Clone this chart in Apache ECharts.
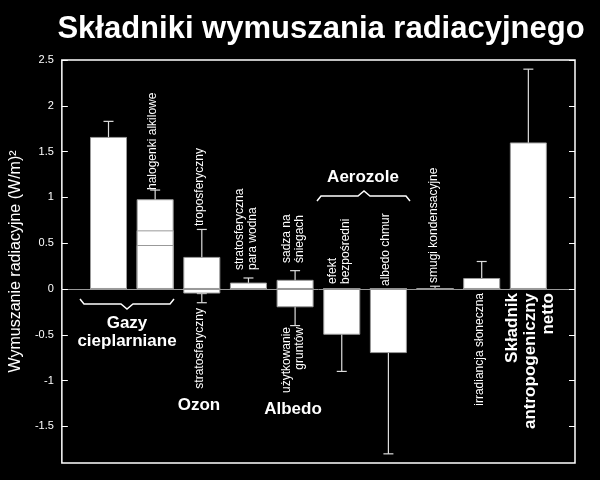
<!DOCTYPE html>
<html><head><meta charset="utf-8">
<script src="https://cdn.jsdelivr.net/npm/echarts@6/dist/echarts.min.js"></script>
<style>html,body{margin:0;background:#000}#main{width:600px;height:480px}</style>
</head><body><div id="main"></div>
<script>
var chart = echarts.init(document.getElementById('main'));

// column positions 1..10
var columns = [1, 2, 3, 4, 5, 6, 7, 8, 9, 10];
// primary bar per column
var mainValues = [1.66, 0.48, 0.35, 0.07, -0.2, -0.5, -0.7, 0.01, 0.12, 1.6];
// secondary parts (N2O on column 2, strat. ozone, black carbon on snow)
var secondValues = [0, 0.16, -0.05, 0, 0.1, 0, 0, 0, 0, 0];
// halocarbons on column 2
var thirdValues = [0, 0.34, 0, 0, 0, 0, 0, 0, 0, 0];
// error bars: [column, low, high]
var errorBars = [
  [1, 1.49, 1.83], [2, 0.88, 1.08], [3, 0.25, 0.65], [3, -0.15, -0.05],
  [4, 0.02, 0.12], [5, -0.4, 0.0], [5, 0.0, 0.2], [6, -0.9, -0.1],
  [7, -1.8, -0.3], [8, 0.003, 0.03], [9, 0.06, 0.3], [10, 0.6, 2.4]
];
var yTicks = [-1.5, -1, -0.5, 0, 0.5, 1, 1.5, 2, 2.5];

function pairs(vals) { return columns.map(function (c, i) { return [c, vals[i]]; }); }
// column 2 is stacked: draw cumulative heights from the back to the front
var level3 = mainValues.map(function (v, i) { return i === 1 ? v + secondValues[i] + thirdValues[i] : 0; });
var level2 = mainValues.map(function (v, i) { return i === 1 ? v + secondValues[i] : secondValues[i]; });

var barStyle = { color: '#fff', borderColor: '#999', borderWidth: 1 };
var font = 'Liberation Sans, Arial, sans-serif';

function vtext(x, y, text, align, size, bold) {
  return { type: 'text', x: x, y: y, rotation: Math.PI / 2, z: 10,
    style: { text: text, fill: '#fff', font: (bold ? 'bold ' : '') + size + 'px ' + font,
      align: align, verticalAlign: 'middle', lineHeight: size + 1 } };
}
function htext(x, y, text) {
  return { type: 'text', x: x, y: y, z: 10,
    style: { text: text, fill: '#fff', font: 'bold 17px ' + font, align: 'center', verticalAlign: 'middle', lineHeight: 18 } };
}

var option = {
  backgroundColor: '#000',
  animation: false,
  title: { text: 'Składniki wymuszania radiacyjnego', left: 316, top: 9, textAlign: 'center',
    textStyle: { color: '#fff', fontSize: 31, fontWeight: 'bold', fontFamily: font } },
  grid: { left: 58, right: 25, top: 60, bottom: 17, show: true, borderColor: '#fff', borderWidth: 1.5, backgroundColor: '#000' },
  xAxis: { type: 'value', min: 0, max: 11, axisLabel: { show: false }, axisTick: { show: false },
    splitLine: { show: false }, axisLine: { onZero: true, lineStyle: { color: '#999', width: 1 } } },
  yAxis: [
    { type: 'value', min: -1.9, max: 2.5, splitLine: { show: false },
      name: 'Wymuszanie radiacyjne (W/m)²', nameLocation: 'middle', nameGap: 36,
      nameTextStyle: { color: '#fff', fontSize: 16, fontFamily: font },
      axisLine: { show: false },
      axisTick: { inside: true, length: 6, customValues: yTicks, lineStyle: { color: '#fff' } },
      axisLabel: { customValues: yTicks, color: '#fff', fontSize: 11, fontFamily: font } },
    { type: 'value', min: -1.9, max: 2.5, position: 'right', splitLine: { show: false },
      axisLine: { show: false }, axisLabel: { show: false },
      axisTick: { inside: true, length: 6, customValues: yTicks, lineStyle: { color: '#fff' } } }
  ],
  series: [
    { type: 'custom', data: errorBars, z: 1,
      renderItem: function (params, api) {
        var lo = api.coord([api.value(0), api.value(1)]);
        var hi = api.coord([api.value(0), api.value(2)]);
        var w = 5;
        var st = { stroke: '#ddd', lineWidth: 1.2 };
        return { type: 'group', children: [
          { type: 'line', shape: { x1: lo[0], y1: lo[1], x2: hi[0], y2: hi[1] }, style: st },
          { type: 'line', shape: { x1: lo[0] - w, y1: lo[1], x2: lo[0] + w, y2: lo[1] }, style: st },
          { type: 'line', shape: { x1: hi[0] - w, y1: hi[1], x2: hi[0] + w, y2: hi[1] }, style: st }
        ] };
      } },
    { type: 'bar', z: 3, barWidth: 37, barGap: '-100%', data: pairs(level3), itemStyle: barStyle },
    { type: 'bar', z: 3, barWidth: 37, barGap: '-100%', data: pairs(level2), itemStyle: barStyle },
    { type: 'bar', z: 3, barWidth: 37, barGap: '-100%', data: pairs(mainValues), itemStyle: barStyle }
  ],
  graphic: [
    vtext(153, 190, 'halogenki alkilowe', 'left', 12),
    vtext(200, 226, 'troposferyczny', 'left', 12),
    vtext(246, 270, 'stratosferyczna\npara wodna', 'left', 12),
    vtext(293, 263, 'sadza na\nśniegach', 'left', 12),
    vtext(200, 308, 'stratosferyczny', 'right', 12),
    vtext(293, 327, 'użytkowanie\ngruntów', 'right', 12),
    vtext(339, 284, 'efekt\nbezpośredni', 'left', 12),
    vtext(386, 286, 'albedo chmur', 'left', 12),
    vtext(434, 283, 'smugi kondensacyjne', 'left', 12),
    vtext(480, 293, 'irradiancja słoneczna', 'right', 12),
    vtext(530, 293, 'Składnik\nantropogeniczny\nnetto', 'right', 17, true),
    htext(127, 332, 'Gazy\ncieplarniane'),
    htext(199, 405, 'Ozon'),
    htext(293, 409, 'Albedo'),
    htext(363, 177, 'Aerozole'),
    { type: 'polyline', z: 10, shape: { points: [[80, 299], [84, 304], [121, 304], [127, 309], [133, 304], [170, 304], [174, 299]] },
      style: { stroke: '#fff', lineWidth: 1.5, fill: null } },
    { type: 'polyline', z: 10, shape: { points: [[317, 201], [321, 196], [358, 196], [364, 191], [370, 196], [406, 196], [410, 201]] },
      style: { stroke: '#fff', lineWidth: 1.5, fill: null } }
  ]
};

option && chart.setOption(option);
</script></body></html>
